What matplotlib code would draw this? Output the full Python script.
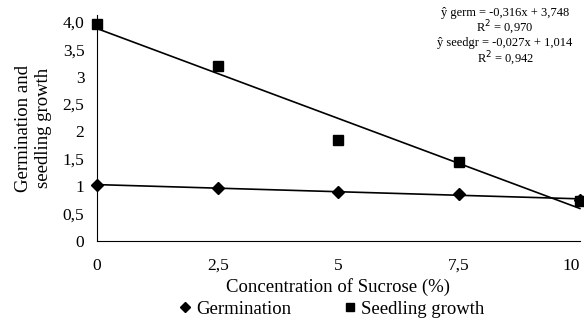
import numpy as np
import matplotlib.pyplot as plt
from matplotlib.lines import Line2D

plt.rcParams['font.family'] = ['Liberation Serif', 'DejaVu Serif']

# Data
sucrose = [0, 2.5, 5, 7.5, 10]
xtick_labels = ['0', '2,5', '5', '7,5', '10']
germination = [1.02, 0.97, 0.90, 0.86, 0.75]
seedling = [3.96, 3.20, 1.84, 1.45, 0.73]
ytick_vals = [0, 0.5, 1, 1.5, 2, 2.5, 3, 3.5, 4]
ytick_labels = ['0', '0,5', '1', '1,5', '2', '2,5', '3', '3,5', '4,0']

fig = plt.figure(figsize=(5.84, 3.18), dpi=100)
ax = fig.add_axes([0.166, 0.242, 0.827, 0.71])

x = np.array(sucrose)

# linear trendlines
for y in (germination, seedling):
    k, b = np.polyfit(x, y, 1)
    ax.plot(x, k * x + b, color='black', lw=1.2, clip_on=False, zorder=2)

ax.plot(x, germination, 'D', color='black', ms=6.5, ls='none', clip_on=False, zorder=3)
ax.plot(x, seedling, 's', color='black', ms=7.5, ls='none', clip_on=False, zorder=4)

ax.set_xlim(0, 10)
ax.set_ylim(0, 4.12)
ax.set_xticks(sucrose)
ax.set_xticklabels(xtick_labels)
ax.set_yticks(ytick_vals)
ax.set_yticklabels(ytick_labels)
ax.tick_params(axis='both', length=0, labelsize=12.5)
ax.tick_params(axis='x', pad=12)
ax.tick_params(axis='y', pad=9)
ax.get_xticklabels()[-1].set_ha('right')
ax.spines['top'].set_visible(False)
ax.spines['right'].set_visible(False)

ax.set_xlabel('Concentration of Sucrose (%)', fontsize=13.5, labelpad=3)
ax.set_ylabel('Germination and\nseedling growth', fontsize=13.5, labelpad=8, linespacing=1.2)

ax.text(0.845, 1.035, 'ŷ germ = -0,316x + 3,748\nR$^2$ = 0,970\nŷ seedgr = -0,027x + 1,014\nR$^2$ = 0,942',
        transform=ax.transAxes, ha='center', va='top', fontsize=9, linespacing=1.0)

handles = [Line2D([], [], marker='D', color='black', ls='none', ms=5),
           Line2D([], [], marker='s', color='black', ls='none', ms=5.5)]
fig.legend(handles, ['Germination', 'Seedling growth'], loc='center', bbox_to_anchor=(0.565, 0.028),
           ncol=2, frameon=False, fontsize=13.5, handletextpad=0.1, columnspacing=2.6, handlelength=1.0)

fig.savefig('out.png', dpi=100)
